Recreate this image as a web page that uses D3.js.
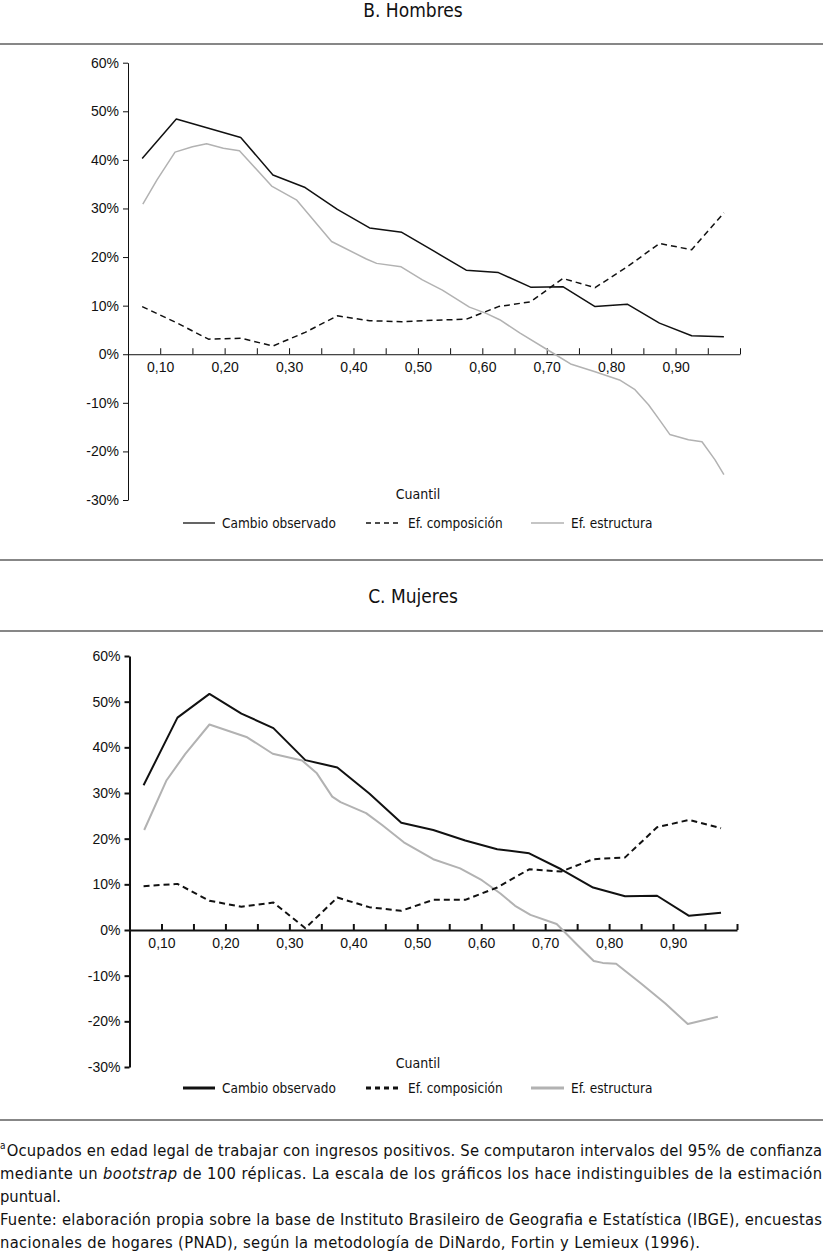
<!DOCTYPE html>
<html>
<head>
<meta charset="utf-8">
<script src="https://cdn.jsdelivr.net/npm/d3@7"></script>
<style>
  body { margin: 0; background: #fff; }
  #wrap { position: relative; width: 827px; height: 1260px; overflow: hidden;
    font-family: "DejaVu Sans Condensed", "DejaVu Sans", sans-serif; color: #111; }
  svg { position: absolute; left: 0; top: 0; }
</style>
</head>
<body>
<div id="wrap"></div>
<script>
// quantiles where the observed change and the composition effect are plotted
const quantiles = [0.072, 0.125, 0.175, 0.225, 0.275, 0.325, 0.375, 0.425, 0.475, 0.525,
  0.575, 0.625, 0.675, 0.725, 0.775, 0.825, 0.875, 0.925, 0.975];
const xTicks = [0.05, 0.10, 0.15, 0.20, 0.25, 0.30, 0.35, 0.40, 0.45, 0.50,
  0.55, 0.60, 0.65, 0.70, 0.75, 0.80, 0.85, 0.90, 0.95, 1.00];
const xLabels = ['0,10', '0,20', '0,30', '0,40', '0,50', '0,60', '0,70', '0,80', '0,90'];
const xLabelAt = [0.10, 0.20, 0.30, 0.40, 0.50, 0.60, 0.70, 0.80, 0.90];
const yTicks = [-30, -20, -10, 0, 10, 20, 30, 40, 50, 60];
const seriesNames = ['Cambio observado', 'Ef. composición', 'Ef. estructura'];

// B. Hombres
const hombresObservado = [40.3, 48.4, 46.5, 44.6, 36.9, 34.3, 29.8, 26.0, 25.1, 21.2,
  17.3, 16.8, 13.8, 13.9, 9.8, 10.3, 6.4, 3.8, 3.6];
const hombresComposicion = [9.8, 6.5, 3.1, 3.3, 1.7, 4.5, 7.9, 6.9, 6.7, 7.0,
  7.2, 9.8, 10.8, 15.6, 13.7, 18.0, 22.8, 21.5, 29.1];
const hombresEstructuraX = [0.073, 0.095, 0.123, 0.150, 0.172, 0.198, 0.223, 0.273, 0.312, 0.366,
  0.420, 0.436, 0.474, 0.507, 0.538, 0.580, 0.606, 0.627, 0.658, 0.710, 0.737,
  0.775, 0.813, 0.837, 0.858, 0.875, 0.891, 0.920, 0.941, 0.961, 0.975];
const hombresEstructura = [30.9, 35.9, 41.6, 42.7, 43.3, 42.4, 41.9, 34.6, 31.7, 23.2,
  19.6, 18.7, 18.0, 15.3, 13.2, 9.7, 8.4, 7.1, 4.4, 0.2, -2.0,
  -3.6, -5.3, -7.3, -10.4, -13.5, -16.5, -17.6, -18.0, -21.7, -24.8];

// C. Mujeres
const mujeresObservado = [31.7, 46.5, 51.7, 47.4, 44.2, 37.2, 35.6, 29.9, 23.5, 21.9,
  19.6, 17.7, 16.8, 13.3, 9.3, 7.4, 7.5, 3.1, 3.8];
const mujeresComposicion = [9.6, 10.1, 6.4, 5.1, 6.0, 0.4, 7.1, 5.0, 4.2, 6.6,
  6.6, 9.3, 13.3, 12.8, 15.5, 15.9, 22.5, 24.1, 22.3];
const mujeresEstructuraX = [0.073, 0.108, 0.137, 0.175, 0.234, 0.274, 0.320, 0.343, 0.367, 0.380,
  0.420, 0.445, 0.479, 0.525, 0.567, 0.601, 0.630, 0.653, 0.677, 0.718,
  0.752, 0.776, 0.790, 0.811, 0.850, 0.888, 0.923, 0.970];
const mujeresEstructura = [21.9, 32.8, 38.5, 45.0, 42.2, 38.6, 37.1, 34.3, 29.2, 28.0,
  25.6, 23.0, 19.2, 15.5, 13.5, 10.9, 8.0, 5.3, 3.3, 1.3,
  -3.5, -6.8, -7.2, -7.4, -11.7, -16.1, -20.6, -19.0];

const W = 827, H = 1260;
const ink = '#111';
const grey = '#b2b2b2';

const wrap = d3.select('#wrap');
const svg = wrap.append('svg').attr('width', W).attr('height', H);

function rule(y) {
  svg.append('line')
    .attr('x1', 0).attr('x2', 823).attr('y1', y).attr('y2', y)
    .attr('stroke', ink).attr('stroke-width', 1.2);
}

function panel(p) {
  const x = d3.scaleLinear().domain([0.05, 1]).range([p.left, p.right]);
  const y = d3.scaleLinear().domain([-30, 60]).range([p.bottom, p.top]);
  const g = svg.append('g');

  svg.append('text')
    .attr('x', 413).attr('y', p.titleY)
    .attr('text-anchor', 'middle').attr('dominant-baseline', 'central')
    .attr('font-size', 19).attr('fill', ink)
    .text(p.title);

  // y axis
  const ya = g.append('g')
    .attr('transform', `translate(${p.left},0)`)
    .call(d3.axisLeft(y).tickValues(yTicks).tickSize(5).tickSizeOuter(0).tickPadding(4)
      .tickFormat(d => d + '%'));
  ya.select('.domain').attr('stroke', ink).attr('stroke-width', p.axisW);
  ya.selectAll('.tick line').attr('stroke', ink).attr('stroke-width', p.axisW);
  ya.selectAll('.tick text').attr('font-size', 14).attr('fill', ink)
    .attr('font-family', 'inherit');

  // x axis on the zero line, ticks pointing up, labels below
  const lab = new Map(xLabelAt.map((v, i) => [v.toFixed(2), xLabels[i]]));
  const xa = g.append('g')
    .attr('transform', `translate(0,${y(0)})`)
    .call(d3.axisBottom(x).tickValues(xTicks).tickSize(-6).tickSizeOuter(0).tickPadding(8)
      .tickFormat(d => lab.get(d.toFixed(2)) || ''));
  xa.select('.domain').attr('stroke', ink).attr('stroke-width', p.axisW);
  xa.selectAll('.tick line').attr('stroke', ink).attr('stroke-width', p.axisW);
  xa.selectAll('.tick text').attr('font-size', 14).attr('fill', ink)
    .attr('font-family', 'inherit');

  const line = d3.line().x(d => x(d[0])).y(d => y(d[1]));
  const draw = (xs, vs, color, dash) => g.append('path')
    .datum(d3.zip(xs, vs))
    .attr('d', line)
    .attr('fill', 'none')
    .attr('stroke', color)
    .attr('stroke-width', p.lineW)
    .attr('stroke-dasharray', dash)
    .attr('stroke-linejoin', 'round');

  draw(p.estX, p.est, grey, null);
  draw(quantiles, p.comp, ink, '6,4');
  draw(quantiles, p.obs, ink, null);

  g.append('text')
    .attr('x', 418).attr('y', p.cuantilY)
    .attr('text-anchor', 'middle').attr('dominant-baseline', 'central')
    .attr('font-size', 14).attr('fill', ink)
    .text('Cuantil');

  // legend
  const leg = [
    { x1: 183, x2: 215, tx: 222, color: ink, dash: null },
    { x1: 366, x2: 402, tx: 408, color: ink, dash: '5,4' },
    { x1: 531, x2: 564, tx: 571, color: grey, dash: null },
  ];
  leg.forEach((l, i) => {
    g.append('line')
      .attr('x1', l.x1).attr('x2', l.x2).attr('y1', p.legendY).attr('y2', p.legendY)
      .attr('stroke', l.color).attr('stroke-width', p.legendW)
      .attr('stroke-dasharray', l.dash);
    g.append('text')
      .attr('x', l.tx).attr('y', p.legendY)
      .attr('dominant-baseline', 'central')
      .attr('font-size', 13.5).attr('fill', ink)
      .text(seriesNames[i]);
  });
}

rule(44);
panel({
  title: 'B. Hombres', titleY: 10,
  left: 128, right: 740, top: 62.7, bottom: 500,
  axisW: 1, lineW: 1.5, legendW: 1.3,
  cuantilY: 494, legendY: 523,
  obs: hombresObservado, comp: hombresComposicion,
  estX: hombresEstructuraX, est: hombresEstructura,
});
rule(560);
rule(631);
panel({
  title: 'C. Mujeres', titleY: 596,
  left: 129.5, right: 737, top: 656, bottom: 1067,
  axisW: 2, lineW: 2, legendW: 3,
  cuantilY: 1063, legendY: 1088,
  obs: mujeresObservado, comp: mujeresComposicion,
  estX: mujeresEstructuraX, est: mujeresEstructura,
});
rule(1120);

// notes below the charts; justified lines are spread to the full width
const notes = [
  { y: 1150, w: 822, parts: [['a', 'sup'], ['Ocupados en edad legal de trabajar con ingresos positivos. Se computaron intervalos del 95% de confianza', 'after']] },
  { y: 1173, w: 822, parts: [['mediante un '], ['bootstrap', 'i'], [' de 100 réplicas. La escala de los gráficos los hace indistinguibles de la estimación']] },
  { y: 1196, w: null, parts: [['puntual.']] },
  { y: 1219, w: 822, parts: [['Fuente: elaboración propia sobre la base de Instituto Brasileiro de Geografia e Estatística (IBGE), encuestas']] },
  { y: 1242, w: 700, parts: [['nacionales de hogares (PNAD), según la metodología de DiNardo, Fortin y Lemieux (1996).']] },
];
const nt = svg.append('g')
  .attr('font-size', 16.4).attr('fill', ink)
  .selectAll('text')
  .data(notes)
  .join('text')
  .attr('x', 0).attr('y', d => d.y)
  .attr('dominant-baseline', 'central')
  .attr('textLength', d => d.w)
  .attr('lengthAdjust', 'spacing');
nt.selectAll('tspan')
  .data(d => d.parts)
  .join('tspan')
  .attr('font-style', d => d[1] === 'i' ? 'italic' : null)
  .attr('font-size', d => d[1] === 'sup' ? 10 : null)
  .attr('dy', d => d[1] === 'sup' ? -5 : d[1] === 'after' ? 5 : null)
  .attr('dx', d => d[1] === 'after' ? 1 : null)
  .text(d => d[0]);
</script>
</body>
</html>
